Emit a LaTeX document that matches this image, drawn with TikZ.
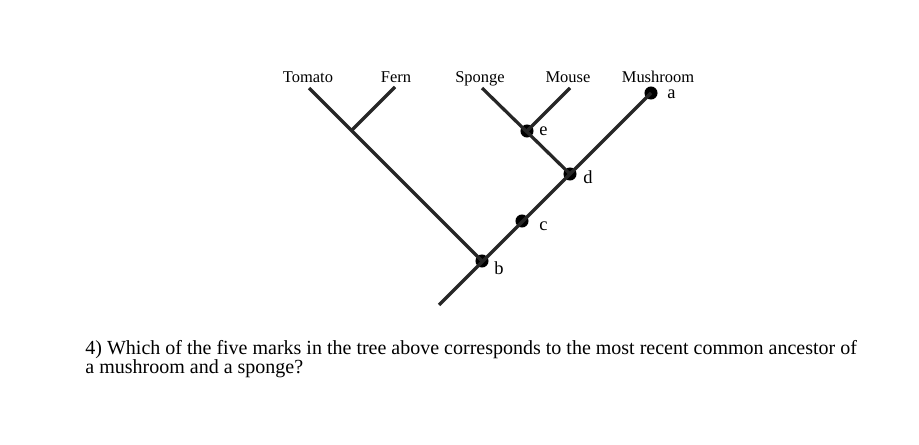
\documentclass[tikz,border=0pt]{standalone}
\usepackage{fontspec}
\setmainfont{Liberation Serif}
\begin{document}
\begin{tikzpicture}[x=0.65pt, y=-0.65pt,
  branch/.style={line width=2.1pt, draw=black!85, line cap=butt},
  dotmark/.style={circle, fill=black, inner sep=0pt, minimum size=8.5pt},
  taxon/.style={anchor=base, font=\fontsize{10.7}{12}\selectfont},
  letter/.style={anchor=base west, font=\fontsize{12}{14}\selectfont},
  question/.style={anchor=base west, font=\fontsize{13}{12.4}\selectfont}]
\useasboundingbox (0,0) rectangle (919,444);
% tips and junctions
\coordinate (tomato) at (309,88);
\coordinate (fern) at (395,87);
\coordinate (tf) at (352,130);
\coordinate (sponge) at (482,88);
\coordinate (mouse) at (570,88);
\coordinate (root) at (439,305);
\node[dotmark] (a) at (651,93) {};
\node[dotmark] (e) at (527,131) {};
\node[dotmark] (d) at (570,174) {};
\node[dotmark] (c) at (522,221) {};
\node[dotmark] (b) at (482,261) {};
% branches
\draw[branch] (tomato) -- (b.center);
\draw[branch] (fern) -- (tf);
\draw[branch] (root) -- (a.center);
\draw[branch] (sponge) -- (d.center);
\draw[branch] (mouse) -- (e.center);
% taxa
\node[taxon] (ltomato) at (308,82) {Tomato};
\node[taxon] (lfern) at (396,82) {Fern};
\node[taxon] (lsponge) at (480,82) {Sponge};
\node[taxon] (lmouse) at (568,82) {Mouse};
\node[taxon] (lmush) at (658,82) {Mushroom};
% mark labels
\node[letter] (la) at (662,98) {a};
\node[letter] (le) at (534,135) {e};
\node[letter] (ld) at (578,183) {d};
\node[letter] (lc) at (534,230) {c};
\node[letter] (lb) at (489,274) {b};
% question
\node[question] (q1) at (80,354)
  {4) Which of the five marks in the tree above corresponds to the most recent common ancestor of};
\node[question] (q2) at (80,373) {a mushroom and a sponge?};
\end{tikzpicture}
\end{document}
